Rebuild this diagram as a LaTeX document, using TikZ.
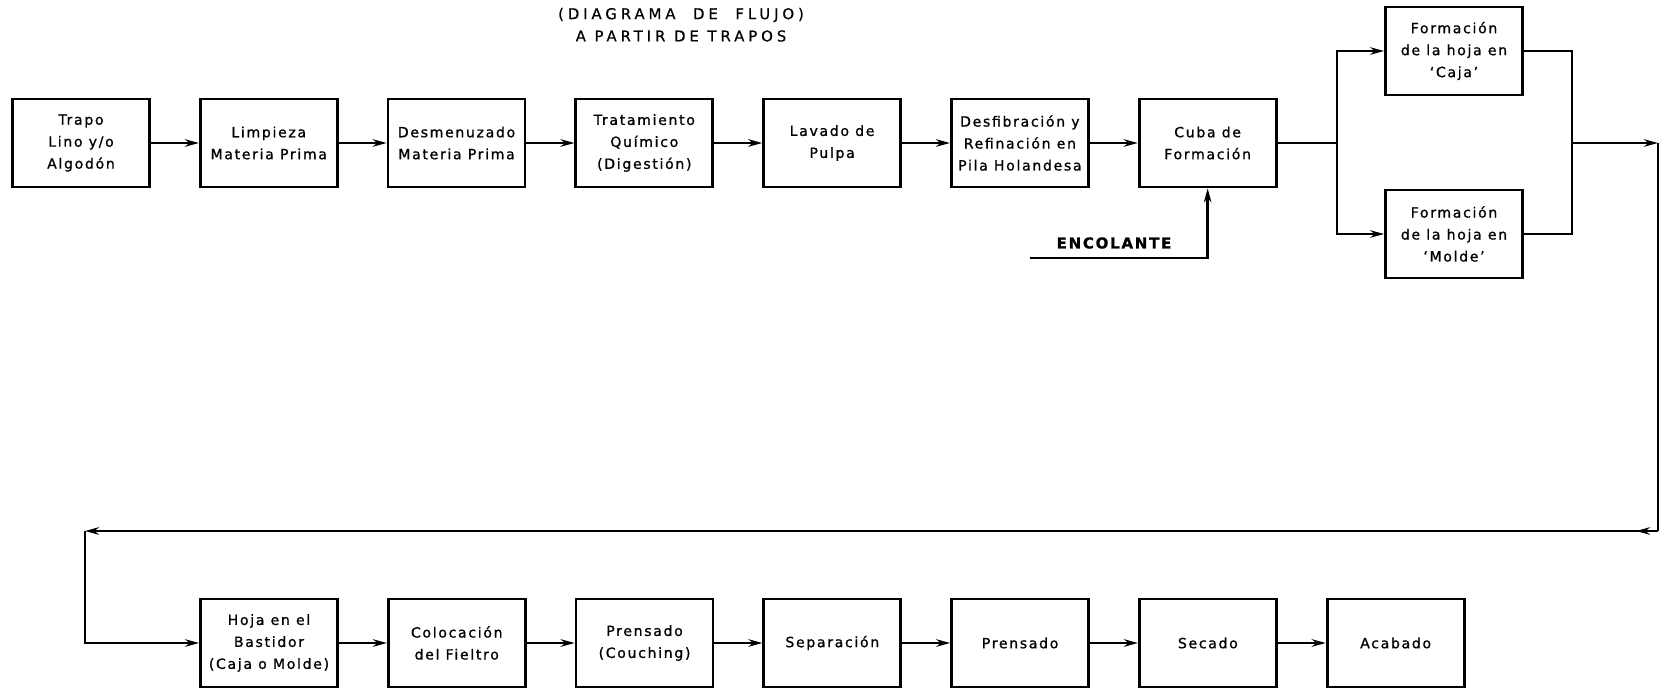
\documentclass[tikz,border=0pt]{standalone}
\usepackage{fontspec}
\setmainfont{DejaVu Sans}
\newfontfamily\boxfont{DejaVu Sans}[LetterSpace=12, FakeBold=1]
\newfontfamily\titlefont{DejaVu Sans}[LetterSpace=26, FakeBold=0.6]
\usetikzlibrary{arrows.meta, positioning}

\begin{document}
\begin{tikzpicture}[
    x=0.02cm, y=-0.02cm,
    node distance=0.96cm,
    box/.style={rectangle, draw, line width=1.6pt, minimum width=2.74cm, minimum height=1.76cm, align=center, inner sep=1pt, font=\boxfont\fontsize{8}{12.5}\selectfont},
    title/.style={font=\titlefont\fontsize{8.5}{10}\selectfont},
    arrow/.style={->, >={Stealth[length=0.28cm, width=0.15cm]}, line width=1.6pt},
    line/.style={line width=1.6pt}
]
\useasboundingbox (0,0) rectangle (1660,689);

% title
\node[title] (title1) at (681,15) {(DIAGRAMA\hspace{0.35cm}DE\hspace{0.35cm}FLUJO)};
\node[title] (title2) at (681,36) {A PARTIR DE TRAPOS};

% top row
\node[box] (trapo) at (81,143) {Trapo\\Lino y/o\\Algodón};
\node[box, right=of trapo] (limpieza) {Limpieza\\Materia Prima};
\node[box, right=of limpieza] (desmenuzado) {Desmenuzado\\Materia Prima};
\node[box, right=of desmenuzado] (tratamiento) {Tratamiento\\Químico\\(Digestión)};
\node[box, right=of tratamiento] (lavado) {Lavado de\\Pulpa};
\node[box, right=of lavado] (desfibra) {Desfibración y\\Refinación en\\Pila Holandesa};
\node[box, right=of desfibra] (cuba) {Cuba de\\Formación};
\node[box] (caja) at (1454,51) {Formación\\de la hoja en\\‘Caja’};
\node[box] (molde) at (1454,234) {Formación\\de la hoja en\\‘Molde’};

% bottom row
\node[box] (hoja) at (269,643) {Hoja en el\\Bastidor\\(Caja o Molde)};
\node[box, right=of hoja] (fieltro) {Colocación\\del Fieltro};
\node[box, right=of fieltro] (couching) {Prensado\\(Couching)};
\node[box, right=of couching] (separacion) {Separación};
\node[box, right=of separacion] (prensado) {Prensado};
\node[box, right=of prensado] (secado) {Secado};
\node[box, right=of secado] (acabado) {Acabado};

\node[font=\boxfont\bfseries\fontsize{8.5}{10}\selectfont] (encolante) at (1114,243) {ENCOLANTE};

\coordinate (split) at (1337,143);
\coordinate (join) at (1572,143);
\coordinate (outR) at (1658,143);
\coordinate (retR) at (1658,531);
\coordinate (retL) at (85,531);
\coordinate (enc) at (1030,258);

\draw[arrow] (trapo) -- (limpieza);
\draw[arrow] (limpieza) -- (desmenuzado);
\draw[arrow] (desmenuzado) -- (tratamiento);
\draw[arrow] (tratamiento) -- (lavado);
\draw[arrow] (lavado) -- (desfibra);
\draw[arrow] (desfibra) -- (cuba);
\draw[arrow] (enc) -| (cuba);
\draw[line] (cuba) -- (split);
\draw[arrow] (split) |- (caja);
\draw[arrow] (split) |- (molde);
\draw[line] (caja) -| (join);
\draw[line] (molde) -| (join);
\draw[arrow] (join) -- (outR);
\draw[line] (outR) -- (retR);
\draw[arrow] (retR) -- ++(-22,0);
\draw[arrow] (retR) -- (retL);
\draw[arrow] (retL) |- (hoja);

\draw[arrow] (hoja) -- (fieltro);
\draw[arrow] (fieltro) -- (couching);
\draw[arrow] (couching) -- (separacion);
\draw[arrow] (separacion) -- (prensado);
\draw[arrow] (prensado) -- (secado);
\draw[arrow] (secado) -- (acabado);

\end{tikzpicture}
\end{document}
